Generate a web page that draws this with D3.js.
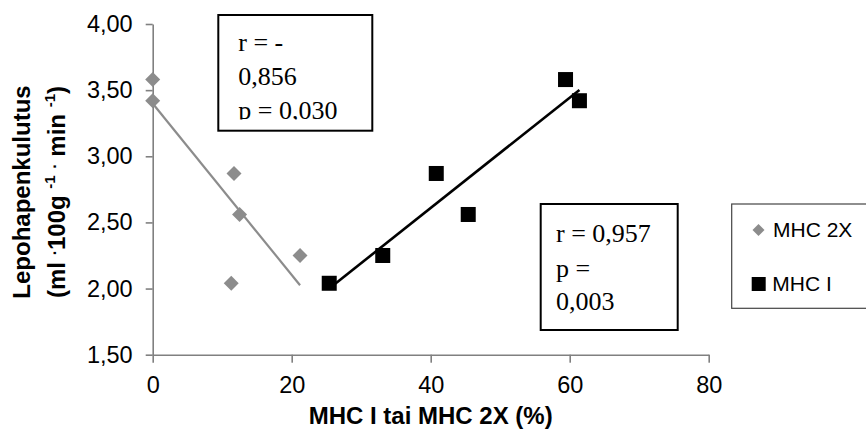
<!DOCTYPE html>
<html>
<head>
<meta charset="utf-8">
<script src="https://cdn.jsdelivr.net/npm/d3@7"></script>
<style>
  html, body { margin: 0; padding: 0; background: #fff; }
  svg { display: block; }
</style>
</head>
<body>
<svg id="chart" width="866" height="446"></svg>
<script>
// ---- data ----
const seriesNames = ["MHC 2X", "MHC I"];
const mhc2xX = [0, 0, 11.7, 12.5, 21.2, 11.3];
const mhc2xY = [3.58, 3.42, 2.87, 2.56, 2.25, 2.04];
const mhc1X = [25.4, 33.1, 40.8, 45.4, 59.4, 61.4];
const mhc1Y = [2.04, 2.25, 2.87, 2.56, 3.58, 3.42];
const xTicks = [0, 20, 40, 60, 80];
const yTicks = [1.5, 2.0, 2.5, 3.0, 3.5, 4.0];
const box1Lines = ["r = -", "0,856", "p = 0,030"];
const box2Lines = ["r = 0,957", "p =", "0,003"];
const xTitle = "MHC I tai MHC 2X (%)";
const yTitle1 = "Lepohapenkulutus";

// ---- layout ----
const svg = d3.select("#chart");
const x = d3.scaleLinear().domain([0, 80]).range([152.7, 708.7]);
const y = d3.scaleLinear().domain([1.5, 4]).range([354.7, 24]);
const axisColor = "#808080";
const grayMark = "#8c8c8c";
const sans = "Arial, 'Liberation Sans', sans-serif";
const serif = "'Times New Roman', 'Liberation Serif', serif";
const comma = v => d3.format(".2f")(v).replace(".", ",");

// axes
const gx = svg.append("g").attr("transform", `translate(0,${y(1.5)})`)
  .call(d3.axisBottom(x).tickValues(xTicks).tickSize(8).tickSizeOuter(0).tickPadding(12).tickFormat(d3.format("d")));
const gy = svg.append("g").attr("transform", `translate(${x(0)},0)`)
  .call(d3.axisLeft(y).tickValues(yTicks).tickSize(7).tickSizeOuter(0).tickPadding(13).tickFormat(comma));
[gx, gy].forEach(g => {
  g.select(".domain").attr("stroke", axisColor).attr("stroke-width", 1.6);
  g.selectAll(".tick line").attr("stroke", axisColor).attr("stroke-width", 1.6);
  g.selectAll(".tick text").attr("fill", "#000").style("font-family", sans).style("font-size", "23.5px");
});
gx.selectAll(".tick text").attr("dy", "0.78em");

// regression helper
function fit(xs, ys) {
  const n = xs.length, mx = d3.mean(xs), my = d3.mean(ys);
  let sxy = 0, sxx = 0;
  for (let i = 0; i < n; i++) { sxy += (xs[i] - mx) * (ys[i] - my); sxx += (xs[i] - mx) ** 2; }
  const b = sxy / sxx, a = my - b * mx;
  const x0 = d3.min(xs), x1 = d3.max(xs);
  return [[x0, a + b * x0], [x1, a + b * x1]];
}
const line = d3.line().x(d => x(d[0])).y(d => y(d[1]));

// markers
const diamond = d3.symbol().type(d3.symbolSquare).size(112);
svg.append("g").selectAll("path").data(mhc2xX.map((v, i) => [v, mhc2xY[i]])).join("path")
  .attr("d", diamond())
  .attr("transform", d => `translate(${x(d[0])},${y(d[1])}) rotate(45)`)
  .attr("fill", grayMark);
svg.append("g").selectAll("rect").data(mhc1X.map((v, i) => [v, mhc1Y[i]])).join("rect")
  .attr("x", d => x(d[0]) - 7.5).attr("y", d => y(d[1]) - 7.5)
  .attr("width", 15).attr("height", 15).attr("fill", "#000");

// trendlines
svg.append("path").attr("d", line(fit(mhc2xX, mhc2xY)))
  .attr("stroke", grayMark).attr("stroke-width", 2.2).attr("fill", "none");
svg.append("path").attr("d", line(fit(mhc1X, mhc1Y)))
  .attr("stroke", "#000").attr("stroke-width", 2.6).attr("fill", "none");

// text boxes
function textBox(x0, y0, w, h, lines, tx, baselines, clipBottom, id) {
  svg.append("rect").attr("x", x0).attr("y", y0).attr("width", w).attr("height", h)
    .attr("fill", "#fff").attr("stroke", "#000").attr("stroke-width", 2);
  svg.append("clipPath").attr("id", id).append("rect")
    .attr("x", x0).attr("y", y0).attr("width", w).attr("height", clipBottom - y0);
  const g = svg.append("g").attr("clip-path", `url(#${id})`);
  lines.forEach((t, i) => {
    g.append("text").attr("x", tx).attr("y", baselines[i]).text(t)
      .style("font-family", serif).style("font-size", "26px").attr("fill", "#000");
  });
}
textBox(218.3, 15, 154, 115.7, box1Lines, 238.3, [51, 84.5, 118.5], 119.5, "clip1");
textBox(540.7, 204, 137, 126, box2Lines, 556, [241.7, 276.7, 309.5], 330, "clip2");

// legend
svg.append("rect").attr("x", 731.7).attr("y", 204).attr("width", 150).attr("height", 104.3)
  .attr("fill", "#fff").attr("stroke", "#444").attr("stroke-width", 1.2);
svg.append("path").attr("d", d3.symbol().type(d3.symbolSquare).size(72)())
  .attr("transform", "translate(758.5,230) rotate(45)").attr("fill", grayMark);
svg.append("rect").attr("x", 751.7).attr("y", 277).attr("width", 14).attr("height", 14).attr("fill", "#000");
svg.append("text").attr("x", 773).attr("y", 237.3).text(seriesNames[0])
  .style("font-family", sans).style("font-size", "21px");
svg.append("text").attr("x", 772.3).attr("y", 291).text(seriesNames[1])
  .style("font-family", sans).style("font-size", "21px");

// axis titles
svg.append("text").attr("x", (x(0) + x(80)) / 2).attr("y", 424).attr("text-anchor", "middle")
  .text(xTitle).style("font-family", sans).style("font-size", "24px").style("font-weight", "bold");

const yt = svg.append("g").attr("transform", "translate(30,192) rotate(-90)");
yt.append("text").attr("x", 0).attr("y", 0).attr("text-anchor", "middle")
  .text(yTitle1).style("font-family", sans).style("font-size", "24px").style("font-weight", "bold");
const t2 = yt.append("text").attr("x", 0).attr("y", 35).attr("text-anchor", "middle")
  .style("font-family", sans).style("font-size", "24px").style("font-weight", "bold");
t2.append("tspan").text("(ml ");
t2.append("tspan").text("·").attr("dy", -5).style("font-size", "16px");
t2.append("tspan").text("100g ").attr("dy", 5);
t2.append("tspan").text("-1").attr("dy", -10).style("font-size", "15px");
t2.append("tspan").text(" ").attr("dy", 10);
t2.append("tspan").text("·").attr("dy", -5).style("font-size", "16px");
t2.append("tspan").text(" min ").attr("dy", 5);
t2.append("tspan").text("-1").attr("dy", -10).style("font-size", "15px");
t2.append("tspan").text(")").attr("dy", 10);
</script>
</body>
</html>
